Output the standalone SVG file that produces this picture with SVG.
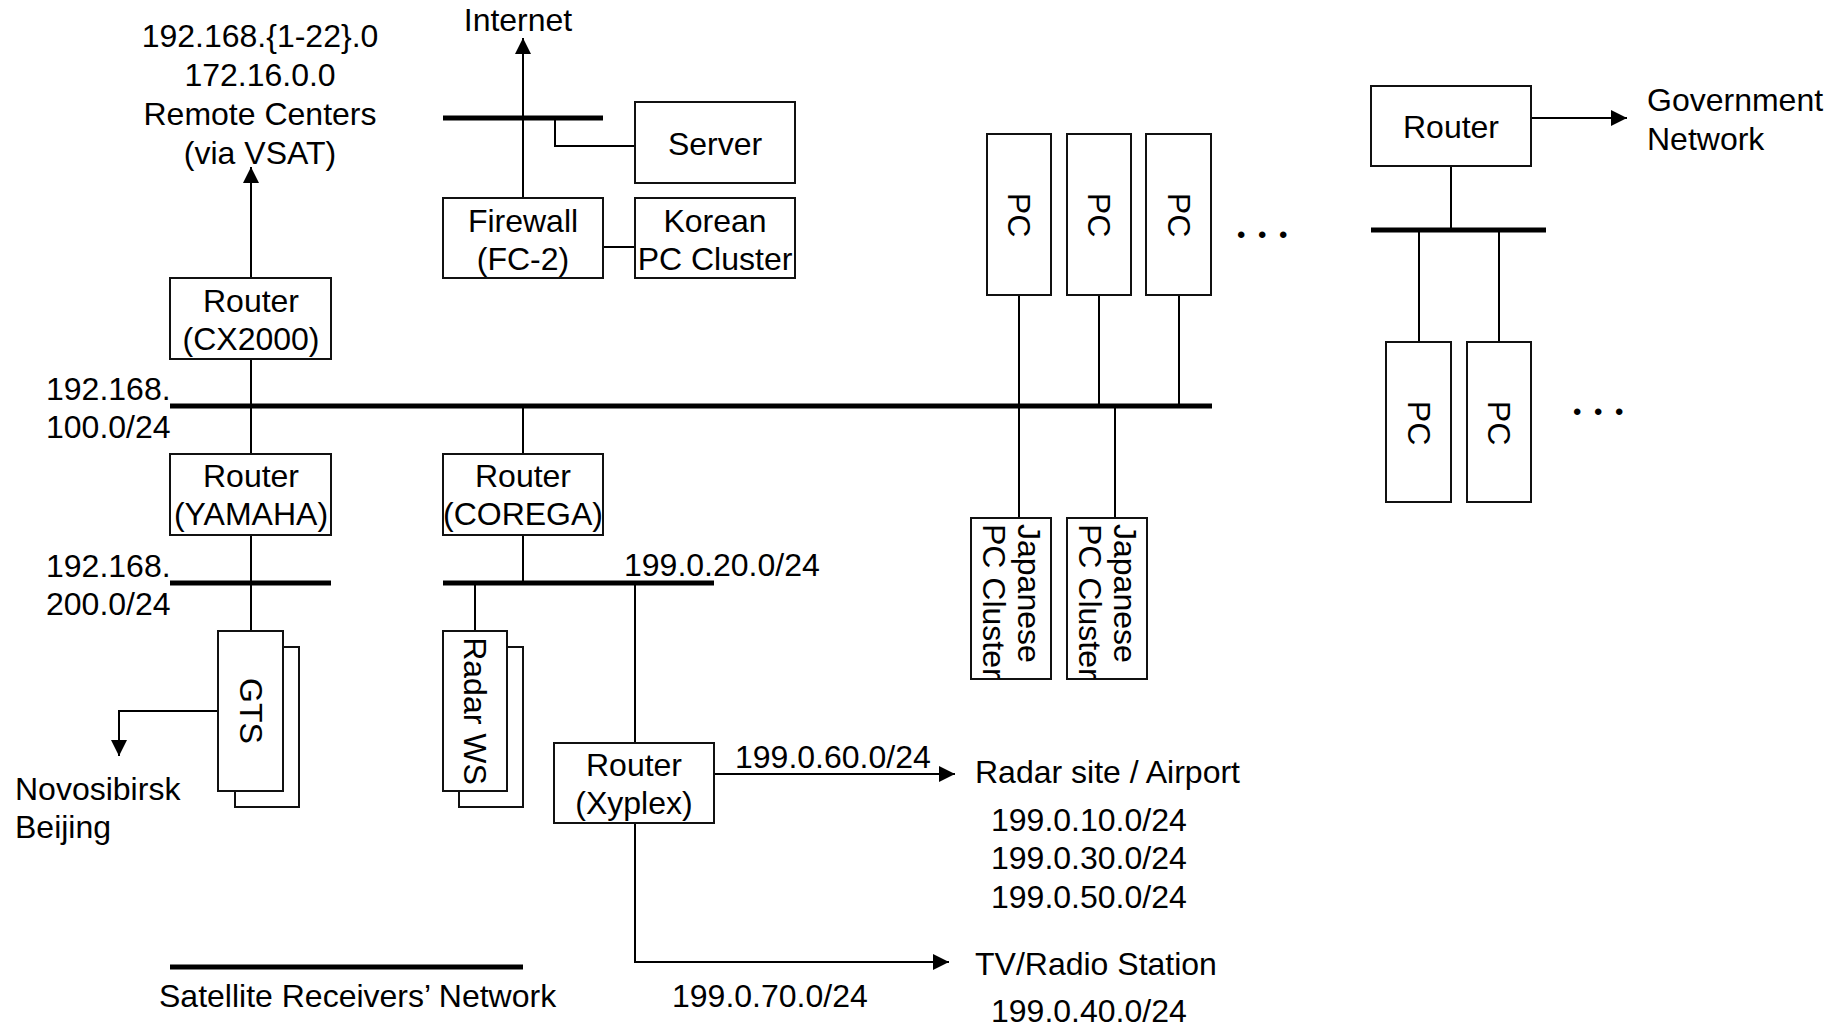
<svg xmlns="http://www.w3.org/2000/svg" width="1836" height="1029" viewBox="0 0 1836 1029">
<style>
text { font-family: "Liberation Sans", Arial, sans-serif; font-size: 32px; fill: #000; }
.c { text-anchor: middle; }
.box { fill: #fff; stroke: #111; stroke-width: 2; }
.ln { stroke: #000; stroke-width: 2; fill: none; }
.bus { stroke: #000; stroke-width: 5; fill: none; }
.dots { font-size: 24px; letter-spacing: 12.6px; }
</style>
<defs>
<marker id="arr" viewBox="0 0 10 10" refX="10" refY="5" markerWidth="16" markerHeight="16" markerUnits="userSpaceOnUse" orient="auto"><path d="M0,0 L10,5 L0,10 z" fill="#000"/></marker>
</defs>
<rect width="1836" height="1029" fill="#fff"/>

<g id="connectors">
<path class="ln" d="M523,198 V38" marker-end="url(#arr)"/>
<path class="ln" d="M555,118 V146 H635"/>
<path class="ln" d="M603,247 H635"/>
<path class="ln" d="M251,278 V167" marker-end="url(#arr)"/>
<path class="ln" d="M251,359 V454"/>
<path class="ln" d="M523,406 V454"/>
<path class="ln" d="M251,535 V631"/>
<path class="ln" d="M523,535 V583"/>
<path class="ln" d="M475,583 V631"/>
<path class="ln" d="M635,583 V743"/>
<path class="ln" d="M714,774 H955" marker-end="url(#arr)"/>
<path class="ln" d="M635,823 V962 H949" marker-end="url(#arr)"/>
<path class="ln" d="M218,711 H119 V756" marker-end="url(#arr)"/>
<path class="ln" d="M1019,295 V518"/>
<path class="ln" d="M1099,295 V406"/>
<path class="ln" d="M1179,295 V406"/>
<path class="ln" d="M1115,406 V518"/>
<path class="ln" d="M1451,166 V230"/>
<path class="ln" d="M1419,230 V342"/>
<path class="ln" d="M1499,230 V342"/>
<path class="ln" d="M1531,118 H1627" marker-end="url(#arr)"/>
<path class="bus" d="M443,118 H603"/>
<path class="bus" d="M170,406 H1212"/>
<path class="bus" d="M170,583 H331"/>
<path class="bus" d="M443,583 H714"/>
<path class="bus" d="M1371,230 H1546"/>
<path class="bus" d="M170,967 H523"/>
</g>

<g id="labels">
<text class="c" x="260" y="47">192.168.{1-22}.0</text>
<text class="c" x="260" y="86">172.16.0.0</text>
<text class="c" x="260" y="125">Remote Centers</text>
<text class="c" x="260" y="164">(via VSAT)</text>
<text class="c" x="518" y="31">Internet</text>
<text x="46" y="400">192.168.</text>
<text x="46" y="438">100.0/24</text>
<text x="46" y="577">192.168.</text>
<text x="46" y="615">200.0/24</text>
<text x="624" y="576">199.0.20.0/24</text>
<text x="735" y="768">199.0.60.0/24</text>
<text x="15" y="800">Novosibirsk</text>
<text x="15" y="838">Beijing</text>
<text x="159" y="1007">Satellite Receivers’ Network</text>
<text x="672" y="1007">199.0.70.0/24</text>
<text x="975" y="783">Radar site / Airport</text>
<text x="991" y="831">199.0.10.0/24</text>
<text x="991" y="869">199.0.30.0/24</text>
<text x="991" y="908">199.0.50.0/24</text>
<text x="975" y="975">TV/Radio Station</text>
<text x="991" y="1022">199.0.40.0/24</text>
<text x="1647" y="111">Government</text>
<text x="1647" y="150">Network</text>
<text class="dots" x="1237" y="243">•••</text>
<text class="dots" x="1573" y="420">•••</text>
</g>

<g id="server"><rect class="box" x="635" y="102" width="160" height="81"/><text class="c" x="715" y="155">Server</text></g>
<g id="firewall"><rect class="box" x="443" y="198" width="160" height="80"/><text class="c" x="523" y="232">Firewall</text><text class="c" x="523" y="270">(FC-2)</text></g>
<g id="korean-pc-cluster"><rect class="box" x="635" y="198" width="160" height="80"/><text class="c" x="715" y="232">Korean</text><text class="c" x="715" y="270">PC Cluster</text></g>
<g id="router-cx2000"><rect class="box" x="170" y="278" width="161" height="81"/><text class="c" x="251" y="312">Router</text><text class="c" x="251" y="350">(CX2000)</text></g>
<g id="router-yamaha"><rect class="box" x="170" y="454" width="161" height="81"/><text class="c" x="251" y="487">Router</text><text class="c" x="251" y="525">(YAMAHA)</text></g>
<g id="router-corega"><rect class="box" x="443" y="454" width="160" height="81"/><text class="c" x="523" y="487">Router</text><text class="c" x="523" y="525">(COREGA)</text></g>
<g id="gts"><rect class="box" x="235" y="647" width="64" height="160"/><rect class="box" x="218" y="631" width="65" height="160"/><text class="c" transform="translate(251,711) rotate(90)" x="0" y="11.5">GTS</text></g>
<g id="radar-ws"><rect class="box" x="459" y="647" width="64" height="160"/><rect class="box" x="443" y="631" width="64" height="160"/><text class="c" transform="translate(475,711) rotate(90)" x="0" y="11.5">Radar WS</text></g>
<g id="router-xyplex"><rect class="box" x="554" y="743" width="160" height="80"/><text class="c" x="634" y="776">Router</text><text class="c" x="634" y="814">(Xyplex)</text></g>
<g id="pc1"><rect class="box" x="987" y="134" width="64" height="161"/><text class="c" transform="translate(1019,215) rotate(90)" x="0" y="11.5">PC</text></g>
<g id="pc2"><rect class="box" x="1067" y="134" width="64" height="161"/><text class="c" transform="translate(1099,215) rotate(90)" x="0" y="11.5">PC</text></g>
<g id="pc3"><rect class="box" x="1146" y="134" width="65" height="161"/><text class="c" transform="translate(1179,215) rotate(90)" x="0" y="11.5">PC</text></g>
<g id="japanese-pc-cluster-1"><rect class="box" x="971" y="518" width="80" height="161"/><text transform="translate(1018,524) rotate(90)"><tspan x="0" y="0">Japanese</tspan><tspan x="0" y="35">PC Cluster</tspan></text></g>
<g id="japanese-pc-cluster-2"><rect class="box" x="1067" y="518" width="80" height="161"/><text transform="translate(1114,524) rotate(90)"><tspan x="0" y="0">Japanese</tspan><tspan x="0" y="35">PC Cluster</tspan></text></g>
<g id="router-gov"><rect class="box" x="1371" y="86" width="160" height="80"/><text class="c" x="1451" y="138">Router</text></g>
<g id="pc4"><rect class="box" x="1386" y="342" width="65" height="160"/><text class="c" transform="translate(1419,423) rotate(90)" x="0" y="11.5">PC</text></g>
<g id="pc5"><rect class="box" x="1467" y="342" width="64" height="160"/><text class="c" transform="translate(1499,423) rotate(90)" x="0" y="11.5">PC</text></g>
</svg>
